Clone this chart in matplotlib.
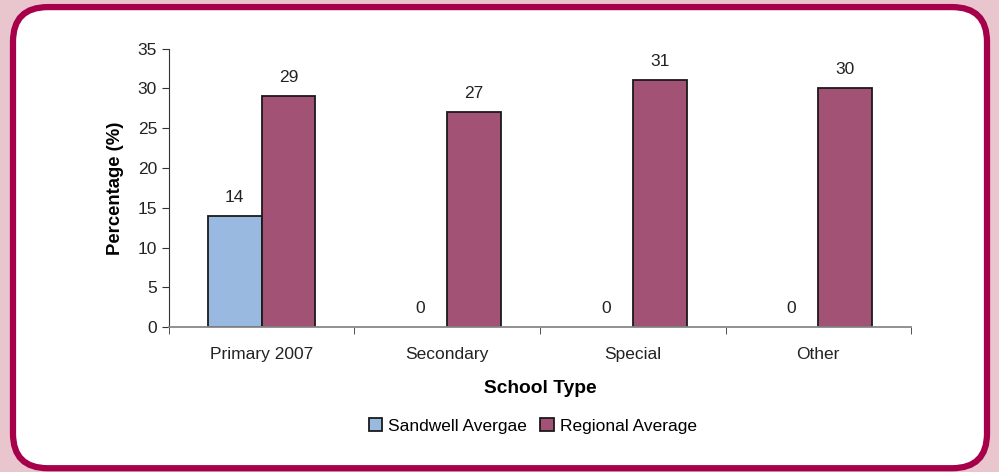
import matplotlib.pyplot as plt
import numpy as np
from matplotlib.patches import FancyBboxPatch

plt.rcParams['font.family'] = ['Liberation Sans', 'DejaVu Sans']

categories = ['Primary 2007', 'Secondary', 'Special', 'Other']
sandwell = [14, 0, 0, 0]
regional = [29, 27, 31, 30]

fig = plt.figure(figsize=(9.99, 4.72), dpi=100)
fig.patch.set_facecolor('#e9c6cd')

# white rounded panel with magenta border
panel = FancyBboxPatch((0.013, 0.008), 0.975, 0.977,
                       boxstyle='round,pad=0,rounding_size=0.035',
                       transform=fig.transFigure, facecolor='white',
                       edgecolor='#a6004a', linewidth=4.5, mutation_aspect=2.1,
                       zorder=-1)
fig.patches.append(panel)

ax = fig.add_axes([0.169, 0.307, 0.743, 0.59])
ax.set_facecolor('none')

x = np.arange(len(categories))
w = 0.29
b1 = ax.bar(x - w / 2, sandwell, w, color='#99b9e1', edgecolor='#1a1a1a',
            linewidth=1.3, label='Sandwell Avergae')
b2 = ax.bar(x + w / 2, regional, w, color='#a15275', edgecolor='#1a1a1a',
            linewidth=1.3, label='Regional Average')

for bars, vals in [(b1, sandwell), (b2, regional)]:
    for r, v in zip(bars, vals):
        if v == 0:
            r.set_linewidth(0)
        ax.annotate(str(v), (r.get_x() + r.get_width() / 2, v),
                    xytext=(0, 8), textcoords='offset points',
                    ha='center', va='bottom', fontsize=12.5, color='#222222')

ax.set_xlim(-0.5, len(categories) - 0.5)
ax.set_ylim(0, 35)
ax.set_yticks(range(0, 36, 5))
ax.set_xticks(x)
ax.set_xticklabels(categories, fontsize=12.5, color='#222222')
ax.set_xticks(np.arange(-0.5, len(categories), 1), minor=True)
ax.tick_params(axis='x', which='major', length=0, pad=14)
ax.tick_params(axis='x', which='minor', length=5, color='#333333')
ax.tick_params(axis='y', labelsize=12.5, labelcolor='#222222', length=5,
               color='#333333')

for s in ['top', 'right']:
    ax.spines[s].set_visible(False)
ax.spines['left'].set_color('#333333')
ax.spines['bottom'].set_color('#888888')
ax.spines['bottom'].set_linewidth(1.3)

ax.set_ylabel('Percentage (%)', fontsize=13.3, fontweight='bold', labelpad=10)
ax.set_xlabel('School Type', fontsize=13.8, fontweight='bold', labelpad=13)

ax.legend(loc='upper center', bbox_to_anchor=(0.49, -0.27), ncol=2,
          frameon=False, fontsize=12.5, handlelength=0.8, handleheight=0.8,
          handletextpad=0.3, columnspacing=0.8)

fig.savefig('out.png', dpi=100, facecolor=fig.get_facecolor())
